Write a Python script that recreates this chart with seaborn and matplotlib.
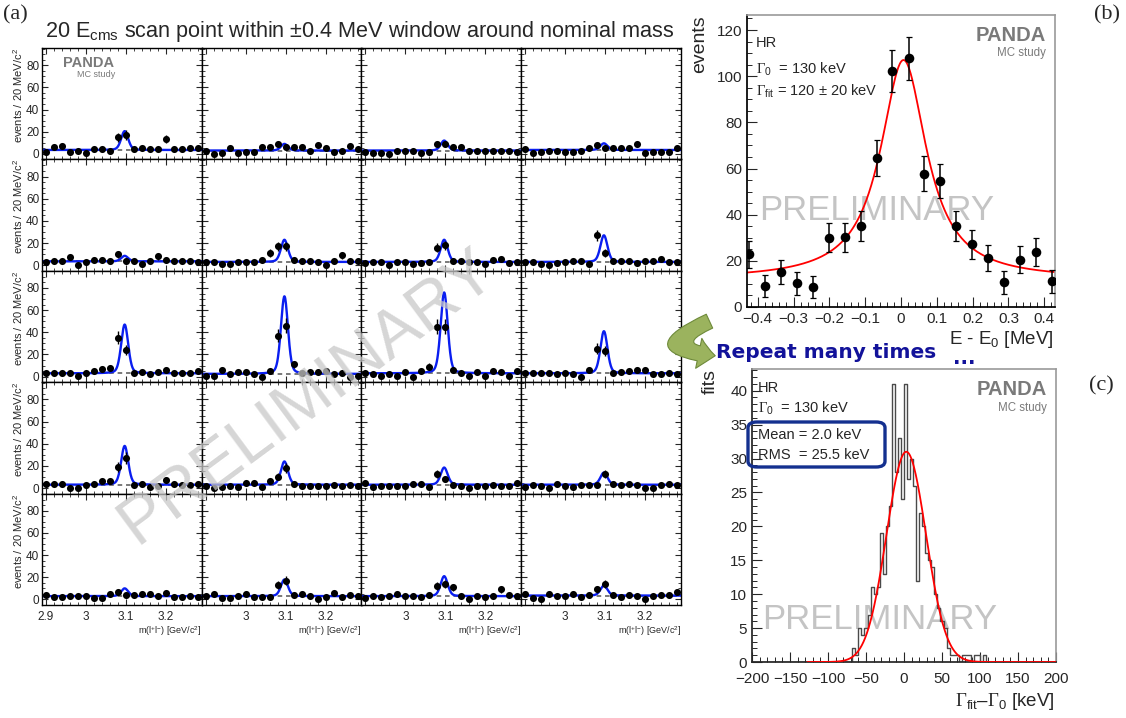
import numpy as np
import pandas as pd
import seaborn as sns
import matplotlib
matplotlib.use('Agg')
import matplotlib.pyplot as plt
from matplotlib.ticker import MultipleLocator, FuncFormatter
from matplotlib.patches import FancyArrowPatch, FancyBboxPatch

sns.set_theme(style='ticks')
plt.rcParams['font.family'] = ['Liberation Sans', 'DejaVu Sans']
plt.rcParams['mathtext.fontset'] = 'custom'
plt.rcParams['mathtext.rm'] = 'Liberation Sans'
plt.rcParams['mathtext.it'] = 'Liberation Sans:italic'
plt.rcParams['mathtext.sf'] = 'Liberation Sans'
plt.rcParams['mathtext.cal'] = 'Liberation Serif'

W, H = 1126, 718

# (a) 20 E_cms scan points, m(l+l-) spectra, 4 columns x 5 rows
mass_bins = [2.90, 2.92, 2.94, 2.96, 2.98, 3.00, 3.02, 3.04, 3.06, 3.08,
             3.10, 3.12, 3.14, 3.16, 3.18, 3.20, 3.22, 3.24, 3.26, 3.28]
counts_a = [
    [2, 6, 7, 2, 3, 1, 4, 4, 3, 15, 17, 4, 5, 4, 4, 13, 4, 4, 5, 5],
    [3, 0, 1, 5, 1, 2, 2, 6, 6, 9, 6, 6, 6, 3, 8, 5, 2, 3, 7, 4],
    [2, 1, 1, 0, 3, 3, 3, 1, 2, 9, 9, 6, 6, 3, 3, 3, 3, 3, 3, 2],
    [4, 1, 2, 3, 3, 2, 2, 3, 5, 8, 5, 5, 5, 5, 9, 1, 2, 2, 2, 5],
    [3, 4, 4, 7, 0, 3, 5, 5, 4, 10, 4, 4, 1, 4, 8, 5, 4, 4, 4, 3],
    [3, 3, 1, 1, 3, 3, 3, 5, 11, 17, 17, 5, 4, 4, 3, 0, 4, 9, 4, 4],
    [2, 3, 3, 0, 3, 3, 1, 2, 3, 16, 18, 4, 4, 3, 3, 1, 5, 6, 2, 3],
    [3, 3, 1, 0, 2, 3, 4, 4, 1, 27, 11, 4, 4, 4, 2, 4, 4, 6, 3, 3],
    [3, 3, 3, 3, 1, 3, 5, 7, 8, 35, 24, 3, 4, 2, 4, 6, 3, 3, 3, 5],
    [1, 1, 6, 2, 4, 4, 2, 0, 5, 37, 46, 11, 3, 4, 4, 5, 2, 3, 0, 1],
    [3, 2, 1, 2, 1, 4, 0, 5, 9, 45, 45, 6, 3, 1, 4, 1, 5, 4, 1, 5],
    [3, 3, 3, 3, 2, 3, 2, 0, 6, 25, 23, 3, 4, 5, 6, 6, 2, 2, 3, 2],
    [4, 4, 4, 0, 0, 3, 4, 6, 6, 19, 27, 3, 4, 1, 2, 7, 4, 3, 3, 4],
    [2, 0, 1, 2, 1, 5, 5, 1, 6, 10, 18, 4, 2, 2, 2, 2, 3, 2, 3, 2],
    [5, 1, 2, 2, 2, 2, 4, 4, 1, 13, 8, 3, 2, 0, 2, 2, 3, 2, 2, 5],
    [1, 3, 2, 0, 4, 2, 1, 3, 3, 3, 13, 4, 3, 4, 3, 0, 0, 3, 4, 3],
    [4, 2, 2, 3, 3, 3, 1, 1, 5, 7, 4, 4, 5, 5, 3, 6, 2, 2, 3, 2],
    [3, 5, 1, 1, 3, 5, 2, 2, 2, 13, 17, 4, 5, 3, 0, 2, 6, 2, 4, 3],
    [1, 3, 2, 3, 5, 3, 3, 2, 4, 12, 14, 11, 3, 0, 3, 2, 3, 9, 4, 3],
    [5, 1, 0, 5, 3, 3, 5, 2, 4, 9, 14, 4, 2, 4, 3, 0, 3, 4, 4, 7],
]
peak_amp_a = [17, 6, 9, 6, 5, 20, 20, 24, 44, 70, 73, 38, 35, 21, 15.5, 11, 7, 15, 18, 9]
bkg_a = [3.5, 3, 3, 3.5, 3.5, 3, 3, 3, 3, 2.5, 3, 3, 3, 3, 3, 3, 3, 3, 3, 3.5]
jpsi_mass = 3.097

# (b) one scan: events vs E - E0
e_scan = [-0.424, -0.380, -0.335, -0.291, -0.246, -0.202, -0.157, -0.113, -0.068, -0.024,
          0.021, 0.065, 0.110, 0.154, 0.199, 0.243, 0.288, 0.332, 0.377, 0.421]
events_b = [22.8, 9.1, 15.1, 10.2, 8.6, 30.0, 30.3, 35.0, 64.6, 102.2,
            107.7, 57.8, 54.5, 35.0, 27.1, 21.3, 10.7, 20.5, 23.8, 11.1]
fit_b = dict(base=12.0, amp=95.0, x0=0.007, hw=0.078)

# (c) Gamma_fit - Gamma_0 distribution, 4 keV bins
hist_left_edges = list(range(-68, 112, 4))
hist_counts = [2, 1, 5, 4, 5, 7, 11, 10, 11, 19, 13, 20, 23, 41, 28, 33, 24, 41, 27, 30,
               26, 12, 22, 20, 16, 15, 14, 10, 8, 6, 5, 2, 1, 1, 1, 0, 1, 1, 1, 0,
               1, 1, 0, 1, 0]
fit_c = dict(amp=31, mu=3.0, sigma=26.0, lo=-127, hi=200)

fig = plt.figure(figsize=(W / 100, H / 100), dpi=100)


def fx(px):
    return px / W


def fy(py):
    return 1 - py / H


def jpsi_curve(x, bkg, amp):
    z = x - jpsi_mass
    return bkg + amp * (0.75 * np.exp(-0.5 * (z / 0.0088) ** 2) + 0.25 / (1 + (z / 0.0105) ** 2))


# ---------------- (a) grid ----------------
gs = fig.add_gridspec(5, 4, left=fx(42), right=fx(681), top=fy(48), bottom=fy(605),
                      hspace=0, wspace=0)
xs = np.linspace(2.89, 3.29, 500)
for k in range(20):
    r, c = divmod(k, 4)
    ax = fig.add_subplot(gs[r, c])
    y = np.array(counts_a[k], dtype=float)
    ax.axhline(bkg_a[k], color='#555555', lw=1.1, ls=(0, (3, 2.5)), zorder=1)
    curve = pd.DataFrame({'m': xs, 'n': jpsi_curve(xs, bkg_a[k], peak_amp_a[k])})
    sns.lineplot(data=curve, x='m', y='n', color='#0a1ef0', lw=1.7, ax=ax, zorder=2)
    ax.errorbar(mass_bins, y, yerr=np.sqrt(np.maximum(y, 1)), fmt='none',
                ecolor='black', elinewidth=1.0, zorder=3)
    sns.scatterplot(x=mass_bins, y=y, color='black', s=26, linewidth=0, ax=ax, zorder=4)
    ax.set_xlim(2.89, 3.29)
    ax.set_ylim(-5, 95.5)
    ax.xaxis.set_major_locator(MultipleLocator(0.1))
    ax.xaxis.set_minor_locator(MultipleLocator(0.02))
    ax.yaxis.set_major_locator(MultipleLocator(20))
    ax.yaxis.set_minor_locator(MultipleLocator(5))
    ax.tick_params(which='both', direction='in', top=True, right=True, labelsize=8.5, pad=2)
    ax.tick_params(axis='x', pad=4)
    ax.tick_params(which='major', length=4, width=0.8)
    ax.tick_params(which='minor', length=2, width=0.6)
    for s in ax.spines.values():
        s.set_linewidth(1.0)
        s.set_color('black')
    if c == 0:
        ax.set_ylabel('events / 20 MeV/c$^2$', fontsize=8, loc='top', labelpad=1)
    else:
        ax.set_ylabel('')
        ax.set_yticklabels([])
    if r == 4:
        if c == 0:
            ax.xaxis.set_major_formatter(FuncFormatter(lambda v, p: '%g' % round(v, 2)))
        else:
            ax.xaxis.set_major_formatter(
                FuncFormatter(lambda v, p: '' if v < 2.95 else '%g' % round(v, 2)))
        ax.set_xlabel('m(l$^{+}$l$^{-}$) [GeV/c$^2$]', fontsize=6.5, loc='right', labelpad=1)
    else:
        ax.set_xlabel('')
        ax.set_xticklabels([])
    if k == 0:
        ax.text(0.13, 0.865, 'PANDA', transform=ax.transAxes, fontsize=10.5,
                fontweight='bold', color='#7a7a7a', va='center')
        ax.text(0.46, 0.76, 'MC study', transform=ax.transAxes, fontsize=6.5,
                color='#7a7a7a', va='center', ha='right')

fig.text(fx(45), fy(31), '20 E$_{\\mathrm{cms}}$ scan point within \u00b10.4 MeV window around nominal mass',
         fontsize=15.6, va='center', ha='left')

# ---------------- (b) ----------------
axb = fig.add_axes([fx(747), fy(307), fx(1055) - fx(747), fy(15) - fy(307)])
eb = np.array(e_scan)
nb = np.array(events_b)
xb = np.linspace(-0.43, 0.43, 400)
fitb = fit_b['base'] + fit_b['amp'] / (1 + ((xb - fit_b['x0']) / fit_b['hw']) ** 2)
sns.lineplot(x=xb, y=fitb, color='#ff0000', lw=1.3, ax=axb, zorder=2)
axb.errorbar(eb, nb, yerr=np.sqrt(nb) * 0.6 + 3, fmt='none', ecolor='black',
             elinewidth=1.1, capsize=2, capthick=0.9, zorder=3)
sns.scatterplot(x=eb, y=nb, color='black', s=48, linewidth=0, ax=axb, zorder=4)
axb.set_xlim(-0.43, 0.43)
axb.set_ylim(0, 126.5)
axb.xaxis.set_major_locator(MultipleLocator(0.1))
axb.xaxis.set_minor_locator(MultipleLocator(0.02))
axb.yaxis.set_major_locator(MultipleLocator(20))
axb.yaxis.set_minor_locator(MultipleLocator(5))
axb.xaxis.set_major_formatter(FuncFormatter(lambda v, p: ('%g' % round(v, 1)).replace('-', '\u2212')))
axb.tick_params(which='both', direction='in', labelsize=11)
axb.tick_params(which='major', length=7, width=0.8)
axb.tick_params(which='minor', length=3.5, width=0.7)
for side in ['left', 'bottom']:
    axb.spines[side].set_color('black')
for side in ['right', 'top']:
    axb.spines[side].set_color('#9a9a9a')
    axb.spines[side].set_linewidth(1.2)
axb.set_xlabel('')
axb.set_ylabel('')
fig.text(fx(700), fy(15), 'events', rotation=90, fontsize=14, ha='center', va='top')
fig.text(fx(1053), fy(339), 'E - E$_0$ [MeV]', fontsize=13.5, ha='right', va='center')
axb.text(0.03, 0.905, 'HR', transform=axb.transAxes, fontsize=10.5, va='center')
axb.text(0.03, 0.815, '$\\mathcal{\u0393}_0$  = 130 keV', transform=axb.transAxes, fontsize=10.5, va='center')
axb.text(0.03, 0.74, '$\\mathcal{\u0393}_{\\mathrm{fit}}$ = 120 \u00b1 20 keV', transform=axb.transAxes,
         fontsize=10.5, va='center')
axb.text(0.97, 0.93, 'PANDA', transform=axb.transAxes, fontsize=14.5, fontweight='bold',
         color='#7a7a7a', ha='right', va='center')
axb.text(0.97, 0.87, 'MC study', transform=axb.transAxes, fontsize=8.3,
         color='#7a7a7a', ha='right', va='center')
axb.text(0.42, 0.33, 'PRELIMINARY', transform=axb.transAxes, fontsize=25,
         color='#c4c4c4', ha='center', va='center', zorder=1)

# ---------------- (c) ----------------
axc = fig.add_axes([fx(752), fy(662), fx(1056) - fx(752), fy(369) - fy(662)])
hist_df = pd.DataFrame({'delta': np.array(hist_left_edges) + 2.0, 'fits': hist_counts})
sns.histplot(data=hist_df, x='delta', weights='fits', binwidth=4, binrange=(-200, 200),
             element='step', fill=False, color='#4a4a4a', linewidth=1.0, ax=axc, zorder=2)
xc = np.linspace(fit_c['lo'], fit_c['hi'], 600)
yc = fit_c['amp'] * np.exp(-0.5 * ((xc - fit_c['mu']) / fit_c['sigma']) ** 2)
sns.lineplot(x=xc, y=yc, color='#ff0000', lw=1.3, ax=axc, zorder=3)
axc.set_xlim(-200, 200)
axc.set_ylim(0, 43.2)
axc.xaxis.set_major_locator(MultipleLocator(50))
axc.xaxis.set_minor_locator(MultipleLocator(10))
axc.yaxis.set_major_locator(MultipleLocator(5))
axc.yaxis.set_minor_locator(MultipleLocator(1))
axc.xaxis.set_major_formatter(FuncFormatter(lambda v, p: ('%d' % v).replace('-', '\u2212')))
axc.tick_params(which='both', direction='in', labelsize=11)
axc.tick_params(axis='x', pad=7)
axc.tick_params(which='major', length=7, width=0.8)
axc.tick_params(which='minor', length=3.5, width=0.7)
for side in ['right', 'top']:
    axc.spines[side].set_color('#9a9a9a')
    axc.spines[side].set_linewidth(1.2)
axc.set_xlabel('')
axc.set_ylabel('')
fig.text(fx(710), fy(369), 'fits', rotation=90, fontsize=14, ha='center', va='top')
fig.text(fx(1055), fy(701), '$\\mathcal{\u0393}_{\\mathrm{fit}}$\u2013$\\mathcal{\u0393}_0$ [keV]',
         fontsize=13.5, ha='right', va='center')
fig.text(fx(758), fy(388), 'HR', fontsize=10.5, va='center')
fig.text(fx(758), fy(408), '$\\mathcal{\u0393}_0$  = 130 keV', fontsize=10.5, va='center')
fig.text(fx(758), fy(435), 'Mean = 2.0 keV', fontsize=10.5, va='center')
fig.text(fx(758), fy(455), 'RMS  = 25.5 keV', fontsize=10.5, va='center')
box = FancyBboxPatch((fx(748), fy(467)), fx(885) - fx(748), fy(422) - fy(467),
                     boxstyle='round,pad=0,rounding_size=0.008', transform=fig.transFigure,
                     fill=False, edgecolor='#14308f', linewidth=2.4, zorder=6)
fig.add_artist(box)
axc.text(0.97, 0.93, 'PANDA', transform=axc.transAxes, fontsize=14.5, fontweight='bold',
         color='#7a7a7a', ha='right', va='center')
axc.text(0.97, 0.868, 'MC study', transform=axc.transAxes, fontsize=8.3,
         color='#7a7a7a', ha='right', va='center')
axc.text(0.42, 0.145, 'PRELIMINARY', transform=axc.transAxes, fontsize=25,
         color='#c4c4c4', ha='center', va='center', zorder=1)

# ---------------- annotations ----------------
fig.text(fx(307), fy(397), 'PRELIMINARY', rotation=36.5, fontsize=48, color='#c8c8c8',
         alpha=0.75, ha='center', va='center', rotation_mode='anchor', zorder=10)
fig.text(fx(716), fy(353), 'Repeat many times', fontsize=14.5, fontweight='bold',
         family=['DejaVu Sans'], color='#12129a', va='center', ha='left', zorder=10)
fig.text(fx(953), fy(364), '...', fontsize=14.5, fontweight='bold',
         family=['DejaVu Sans'], color='#12129a', va='baseline', ha='left', zorder=10)
arrow = FancyArrowPatch((fx(712), fy(320)), (fx(718), fy(356)), transform=fig.transFigure,
                        connectionstyle='arc3,rad=1.9',
                        arrowstyle='simple,head_length=12,head_width=22,tail_width=11',
                        facecolor='#9bb35e', edgecolor='#6e8a3a', linewidth=0.8, zorder=11)
fig.add_artist(arrow)

fig.text(fx(3), fy(15), '(a)', fontsize=16, family=['Liberation Serif'], va='center', ha='left')
fig.text(fx(1120), fy(15), '(b)', fontsize=16, family=['Liberation Serif'], va='center', ha='right')
fig.text(fx(1114), fy(386), '(c)', fontsize=16, family=['Liberation Serif'], va='center', ha='right')

fig.savefig('out.png', dpi=100)
